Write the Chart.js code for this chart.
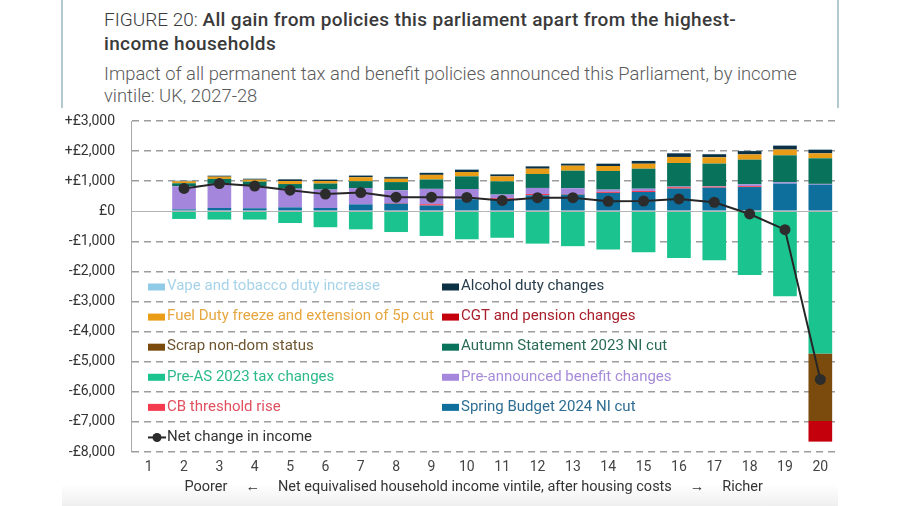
<!DOCTYPE html>
<html><head><meta charset="utf-8">
<script src="https://cdn.jsdelivr.net/npm/chart.js@4.4.1/dist/chart.umd.min.js"></script>
<style>
html,body{margin:0;padding:0;background:#fff;}
body{width:900px;height:506px;position:relative;overflow:hidden;font-family:Roboto,sans-serif;}
#c{position:absolute;left:0;top:0;}
.vline{position:absolute;top:0;width:2px;height:108px;background:#b3c8d0;}
#title{position:absolute;left:104px;top:8px;font-size:19px;line-height:24px;color:#3a3a3a;white-space:nowrap;}
#title .lt{font-weight:300}
#title b{font-weight:500;letter-spacing:0.35px}
#sub{position:absolute;left:104px;top:63px;font-size:18.4px;line-height:22px;color:#5a5a5a;font-weight:300;white-space:nowrap;}
#band{position:absolute;left:62px;width:776px;top:484px;height:22px;background:linear-gradient(#ffffff,#efefef);}
</style></head>
<body>
<div id="band"></div>
<div class="vline" style="left:61px"></div>
<div class="vline" style="left:837px"></div>
<div id="title"><span class="lt">FIGURE 20: </span><b>All gain from policies this parliament apart from the highest-<br>income households</b></div>
<div id="sub">Impact of all permanent tax and benefit policies announced this Parliament, by income<br>vintile: UK, 2027-28</div>
<canvas id="c" width="900" height="506"></canvas>
<script>
const vintiles = ['1','2','3','4','5','6','7','8','9','10','11','12','13','14','15','16','17','18','19','20'];
const yTicks = [3000,2000,1000,0,-1000,-2000,-3000,-4000,-5000,-6000,-7000,-8000];
const yTickLabels = ['+£3,000','+£2,000','+£1,000','£0','-£1,000','-£2,000','-£3,000','-£4,000','-£5,000','-£6,000','-£7,000','-£8,000'];
const xAxisTitle = 'Poorer     \u2190     Net equivalised household income vintile, after housing costs     \u2192     Richer      ';

// positive components
const springBudgetNI = [null,65,110,100,130,110,230,255,190,400,400,530,555,610,640,755,785,805,920,885];
const cbThreshold    = [null,0,0,0,0,0,0,20,45,0,35,45,20,35,35,45,35,30,0,0];
const benefitChanges = [null,765,800,740,620,610,540,420,510,340,120,200,190,75,75,20,15,60,45,25];
const autumnNI       = [null,100,165,145,155,200,230,275,310,420,440,465,585,620,665,785,750,820,895,850];
const fuelDuty       = [null,65,75,65,100,85,130,110,155,145,165,175,165,165,165,200,210,175,190,165];
const alcoholDuty    = [null,15,30,30,55,45,55,55,65,75,65,75,65,75,90,120,100,110,130,120];
const vapeTobacco    = [null,10,10,10,10,10,10,15,10,15,10,15,10,10,10,10,10,10,10,10];
// negative components
const preAS2023      = [null,-255,-275,-275,-390,-530,-600,-690,-820,-930,-880,-1075,-1160,-1270,-1360,-1550,-1625,-2115,-2820,-4725];
const nonDom         = [null,0,0,0,0,0,0,0,0,0,0,0,0,0,0,0,0,0,0,-2245];
const cgtPension     = [null,0,0,0,0,0,0,0,0,0,0,0,0,0,0,0,0,0,0,-685];
// net
const netChange      = [null,760,920,840,700,570,620,470,470,460,360,450,450,330,340,410,300,-90,-610,-5590];

const series = [
  {label:'Spring Budget 2024 NI cut', data:springBudgetNI, color:'#0e6e9c', text:'#2e6d92', col:1, row:4},
  {label:'CB threshold rise', data:cbThreshold, color:'#f43a4e', text:'#e0505f', col:0, row:4},
  {label:'Pre-announced benefit changes', data:benefitChanges, color:'#a487dc', text:'#a68cd8', col:1, row:3},
  {label:'Autumn Statement 2023 NI cut', data:autumnNI, color:'#08725a', text:'#2a6b58', col:1, row:2},
  {label:'Fuel Duty freeze and extension of 5p cut', data:fuelDuty, color:'#e99c15', text:'#e6a640', col:0, row:1},
  {label:'Alcohol duty changes', data:alcoholDuty, color:'#0c3145', text:'#283d4b', col:1, row:0},
  {label:'Vape and tobacco duty increase', data:vapeTobacco, color:'#8fcbe6', text:'#a7d3e8', col:0, row:0},
  {label:'Pre-AS 2023 tax changes', data:preAS2023, color:'#1bc38f', text:'#2cb98c', col:0, row:3},
  {label:'Scrap non-dom status', data:nonDom, color:'#7a4b0c', text:'#6e5530', col:0, row:2},
  {label:'CGT and pension changes', data:cgtPension, color:'#c4000c', text:'#a8202c', col:1, row:1},
];
const legendRowValues = [-2500,-3500,-4500,-5500,-6500,-7500];

const datasets = series.map(s => ({
  type:'bar', label:s.label, data:s.data, backgroundColor:s.color, borderWidth:0,
  stack:'bars', order:1, barPercentage:0.67, categoryPercentage:1.0
}));
datasets.push({
  type:'line', label:'Net change in income', data:netChange, stack:'net', order:0,
  borderColor:'#262626', borderWidth:2, tension:0,
  pointRadius:5.5, pointBackgroundColor:'#2c2c2c', pointBorderWidth:0, pointHoverRadius:5.5
});

const zeroLine = {
  id:'zeroLine',
  beforeDatasetsDraw(chart){
    const {ctx, chartArea, scales:{y}} = chart;
    const yy = Math.round(y.getPixelForValue(0)) + 0.5;
    ctx.save();
    ctx.strokeStyle = '#b4b4b4'; ctx.lineWidth = 1;
    ctx.beginPath(); ctx.moveTo(chartArea.left, yy); ctx.lineTo(chartArea.right, yy); ctx.stroke();
    ctx.restore();
  }
};

const inlineLegend = {
  id:'inlineLegend',
  afterDatasetsDraw(chart){
    const {ctx, chartArea, scales:{y}} = chart;
    ctx.save();
    ctx.font = '15px Roboto';
    ctx.textBaseline = 'middle';
    ctx.textAlign = 'left';
    series.forEach(s => {
      const x0 = chartArea.left + (s.col === 0 ? 17 : 311);
      const yc = y.getPixelForValue(legendRowValues[s.row]);
      ctx.fillStyle = s.color;
      ctx.fillRect(x0, yc - 3, 17, 7);
      ctx.fillStyle = s.text;
      ctx.fillText(s.label, x0 + 19, yc);
    });
    const x0 = chartArea.left + 17;
    const yc = y.getPixelForValue(legendRowValues[5]);
    ctx.strokeStyle = '#262626'; ctx.lineWidth = 2;
    ctx.beginPath(); ctx.moveTo(x0, yc + 0.5); ctx.lineTo(x0 + 18, yc + 0.5); ctx.stroke();
    ctx.fillStyle = '#2c2c2c';
    ctx.beginPath(); ctx.arc(x0 + 9, yc + 0.5, 4.5, 0, Math.PI * 2); ctx.fill();
    ctx.fillStyle = '#333333';
    ctx.fillText('Net change in income', x0 + 19, yc);
    ctx.restore();
  }
};

new Chart(document.getElementById('c'), {
  type:'bar',
  data:{labels:vintiles, datasets:datasets},
  plugins:[zeroLine, inlineLegend],
  options:{
    responsive:false, animation:false,
    layout:{padding:{top:121, right:62, bottom:0, left:0}},
    plugins:{legend:{display:false}, tooltip:{enabled:false}},
    scales:{
      x:{
        stacked:true,
        grid:{display:false, drawTicks:false},
        border:{display:false},
        ticks:{color:'#444', font:{family:'Roboto', size:14}, padding:7, maxRotation:0, autoSkip:false},
        title:{display:true, text:xAxisTitle, color:'#333', font:{family:'Roboto', size:14.5}, padding:{top:0, bottom:10}},
        afterFit(s){ s.height = 54; }
      },
      y:{
        stacked:true, min:-8000, max:3000,
        afterBuildTicks(s){ s.ticks = yTicks.map(v => ({value:v})); },
        ticks:{color:'#333', font:{family:'Roboto', size:14}, padding:16,
          callback(v){ const i = yTicks.indexOf(v); return i >= 0 ? yTickLabels[i] : ''; }},
        grid:{drawTicks:false, lineWidth:1.5,
          color(ctx){ return ctx.tick && ctx.tick.value === 0 ? 'rgba(0,0,0,0)' : '#9c9c9c'; }},
        border:{display:true, color:'#a8a8a8', width:1, dash:[7,5]},
        afterFit(s){ s.width = 131; }
      }
    }
  }
});
</script>
</body></html>
